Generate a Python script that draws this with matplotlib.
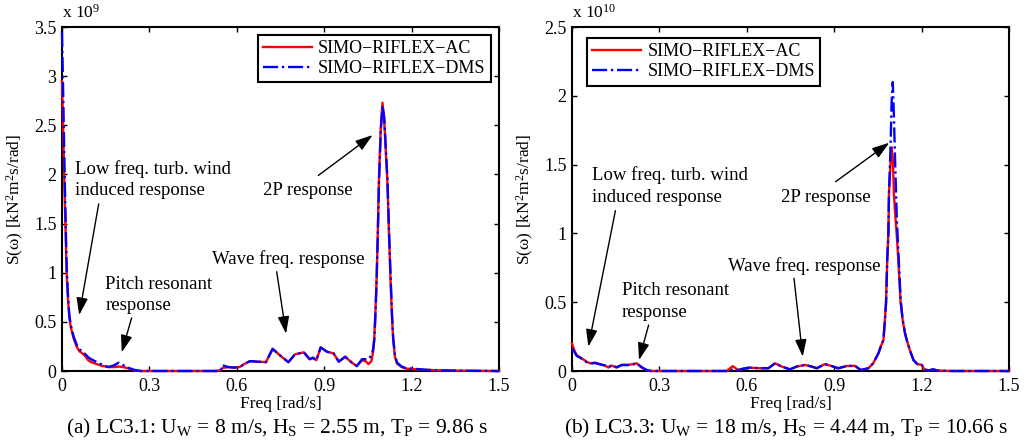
import matplotlib
matplotlib.use("Agg")
import matplotlib.pyplot as plt
from matplotlib.ticker import FuncFormatter, FixedLocator

plt.rcParams['font.family'] = ['Liberation Serif', 'DejaVu Serif']
plt.rcParams['mathtext.fontset'] = 'custom'
plt.rcParams['mathtext.rm'] = 'Liberation Serif'
plt.rcParams['mathtext.it'] = 'Liberation Serif:italic'
plt.rcParams['mathtext.bf'] = 'Liberation Serif:bold'

# ---------------- Data: panel (a), values in 1e9 kN^2 m^2 s/rad ----------------
freq_a = [0.000, 0.003, 0.006, 0.009, 0.012, 0.016, 0.020, 0.025, 0.030, 0.040,
          0.050, 0.060, 0.065, 0.070, 0.080, 0.090, 0.100, 0.120, 0.140, 0.160,
          0.180, 0.195, 0.210, 0.230, 0.250, 0.270, 0.400, 0.530, 0.545, 0.550,
          0.570, 0.590, 0.610, 0.625, 0.645, 0.670, 0.700, 0.723, 0.750, 0.777,
          0.800, 0.830, 0.850, 0.861, 0.873, 0.888, 0.910, 0.932, 0.950, 0.972,
          0.995, 1.012, 1.030, 1.042, 1.052, 1.062, 1.068, 1.072, 1.076, 1.080,
          1.084, 1.088, 1.094, 1.100, 1.106, 1.112, 1.117, 1.122, 1.128, 1.133,
          1.137, 1.143, 1.150, 1.166, 1.180, 1.200, 1.250, 1.300, 1.400, 1.500]
ac_a = [2.95, 2.60, 2.20, 1.80, 1.45, 1.00, 0.75, 0.55, 0.45, 0.33,
        0.25, 0.20, 0.19, 0.18, 0.15, 0.11, 0.09, 0.07, 0.05, 0.04,
        0.04, 0.045, 0.04, 0.025, 0.005, 0.0, 0.0, 0.0, 0.01, 0.03,
        0.04, 0.035, 0.04, 0.07, 0.10, 0.095, 0.09, 0.225, 0.155, 0.09,
        0.17, 0.19, 0.12, 0.135, 0.11, 0.24, 0.195, 0.18, 0.095, 0.145,
        0.085, 0.05, 0.11, 0.10, 0.07, 0.10, 0.20, 0.34, 0.62, 0.95,
        1.42, 1.96, 2.47, 2.73, 2.55, 2.20, 1.92, 1.43, 0.90, 0.53,
        0.31, 0.14, 0.075, 0.04, 0.025, 0.02, 0.012, 0.006, 0.002, 0.0]
dms_a = [3.45, 3.00, 2.50, 2.00, 1.60, 1.05, 0.80, 0.57, 0.47, 0.35,
         0.27, 0.22, 0.21, 0.20, 0.17, 0.14, 0.12, 0.09, 0.06, 0.04,
         0.06, 0.085, 0.06, 0.03, 0.01, 0.0, 0.0, 0.0, 0.0, 0.06,
         0.04, 0.035, 0.04, 0.07, 0.10, 0.095, 0.09, 0.225, 0.155, 0.09,
         0.17, 0.19, 0.12, 0.135, 0.11, 0.24, 0.195, 0.18, 0.095, 0.145,
         0.085, 0.05, 0.12, 0.12, 0.12, 0.16, 0.22, 0.32, 0.58, 0.93,
         1.38, 1.92, 2.42, 2.70, 2.58, 2.24, 1.96, 1.47, 0.95, 0.56,
         0.33, 0.16, 0.085, 0.045, 0.03, 0.025, 0.012, 0.006, 0.002, 0.0]

# ---------------- Data: panel (b), values in 1e10 kN^2 m^2 s/rad ----------------
freq_b = [0.000, 0.008, 0.016, 0.033, 0.050, 0.062, 0.079, 0.096, 0.113, 0.125,
          0.136, 0.153, 0.171, 0.193, 0.210, 0.222, 0.239, 0.256, 0.270, 0.400,
          0.531, 0.552, 0.571, 0.588, 0.611, 0.645, 0.674, 0.697, 0.720, 0.748,
          0.771, 0.800, 0.823, 0.840, 0.868, 0.891, 0.914, 0.943, 0.971, 0.991,
          1.017, 1.034, 1.052, 1.062, 1.069, 1.074, 1.078, 1.082, 1.086, 1.088,
          1.093, 1.097, 1.101, 1.105, 1.109, 1.115, 1.120, 1.128, 1.135, 1.143,
          1.149, 1.160, 1.172, 1.185, 1.200, 1.210, 1.225, 1.240, 1.255, 1.300,
          1.500]
ac_b = [0.200, 0.150, 0.116, 0.092, 0.068, 0.056, 0.060, 0.050, 0.040, 0.025,
        0.040, 0.025, 0.045, 0.045, 0.050, 0.056, 0.025, 0.005, 0.0, 0.0,
        0.0, 0.035, 0.005, 0.015, 0.024, 0.020, 0.020, 0.056, 0.032, 0.012,
        0.032, 0.044, 0.032, 0.020, 0.050, 0.036, 0.020, 0.036, 0.038, 0.007,
        0.020, 0.056, 0.130, 0.190, 0.225, 0.370, 0.500, 0.807, 1.000, 1.290,
        1.500, 1.625, 1.550, 1.290, 1.150, 0.980, 0.807, 0.500, 0.370, 0.275,
        0.225, 0.150, 0.080, 0.050, 0.045, 0.010, 0.005, 0.012, 0.003, 0.0,
        0.0]
dms_b = [0.165, 0.140, 0.110, 0.090, 0.065, 0.055, 0.058, 0.048, 0.040, 0.028,
         0.040, 0.028, 0.043, 0.043, 0.048, 0.056, 0.028, 0.008, 0.0, 0.0,
         0.0, 0.010, 0.008, 0.018, 0.024, 0.020, 0.020, 0.056, 0.032, 0.012,
         0.032, 0.044, 0.032, 0.020, 0.050, 0.036, 0.020, 0.036, 0.038, 0.007,
         0.020, 0.056, 0.130, 0.190, 0.225, 0.370, 0.500, 0.807, 1.000, 1.290,
         1.600, 1.950, 2.100, 1.850, 1.530, 1.100, 0.880, 0.520, 0.370, 0.275,
         0.225, 0.150, 0.080, 0.050, 0.045, 0.010, 0.005, 0.012, 0.003, 0.0,
         0.0]

xticks = [0, 0.3, 0.6, 0.9, 1.2, 1.5]
yticks_a = [0, 0.5, 1, 1.5, 2, 2.5, 3, 3.5]
yticks_b = [0, 0.5, 1, 1.5, 2, 2.5]
series_labels = ['SIMO\u2212RIFLEX\u2212AC', 'SIMO\u2212RIFLEX\u2212DMS']
captions = ['(a) LC3.1: U$_\\mathrm{W}$ = 8 m/s, H$_\\mathrm{S}$ = 2.55 m, T$_\\mathrm{P}$ = 9.86 s',
            '(b) LC3.3: U$_\\mathrm{W}$ = 18 m/s, H$_\\mathrm{S}$ = 4.44 m, T$_\\mathrm{P}$ = 10.66 s']
multipliers = ['x 10$^{9}$', 'x 10$^{10}$']

# annotations: (text, text_x, text_y (baseline of last line), tail, tip)
ann_a = [('Low freq. turb. wind\ninduced response', 0.045, 1.79, (0.126, 1.70), (0.059, 0.57)),
         ('Pitch resonant\nresponse', 0.148, 0.62, (0.239, 0.54), (0.205, 0.19)),
         ('Wave freq. response', 0.514, 1.09, (0.737, 1.01), (0.769, 0.38)),
         ('2P response', 0.691, 1.79, (0.880, 1.99), (1.066, 2.40))]
ann_b = [('Low freq. turb. wind\ninduced response', 0.070, 1.23, (0.149, 1.165), (0.056, 0.177)),
         ('Pitch resonant\nresponse', 0.171, 0.395, (0.263, 0.334), (0.230, 0.080)),
         ('Wave freq. response', 0.537, 0.729, (0.762, 0.674), (0.792, 0.104)),
         ('2P response', 0.716, 1.23, (0.905, 1.376), (1.089, 1.659))]

fig = plt.figure(figsize=(10.29, 4.46), dpi=100)
W, H = 1029.0, 446.0
ax_a = fig.add_axes([62 / W, 1 - 371 / H, 437 / W, 344 / H])
ax_b = fig.add_axes([572 / W, 1 - 371 / H, 437 / W, 344 / H])

panels = [
    (ax_a, freq_a, ac_a, dms_a, yticks_a, 3.5, ann_a, 'upper right', (0.982, 0.977)),
    (ax_b, freq_b, ac_b, dms_b, yticks_b, 2.5, ann_b, 'upper left', (0.034, 0.968)),
]

fmt = FuncFormatter(lambda v, p: '%g' % v)

for i, (ax, fr, ac, dms, yt, ymax, anns, loc, anchor) in enumerate(panels):
    ax.plot(fr, ac, color='#ff0000', lw=1.7, ls='-', label=series_labels[0],
            zorder=3, clip_on=False)
    ax.plot(fr, dms, color='#0000ff', lw=1.7, ls='-.', label=series_labels[1],
            zorder=4, clip_on=False)
    ax.set_xlim(0, 1.5)
    ax.set_ylim(0, ymax)
    ax.xaxis.set_major_locator(FixedLocator(xticks))
    ax.yaxis.set_major_locator(FixedLocator(yt))
    ax.xaxis.set_major_formatter(fmt)
    ax.yaxis.set_major_formatter(fmt)
    ax.tick_params(direction='in', top=True, right=True, length=3.8, width=1.0,
                   labelsize=13, colors='black')
    ax.tick_params(axis='x', pad=5)
    ax.tick_params(axis='y', pad=4)
    for s in ax.spines.values():
        s.set_linewidth(1.5)
        s.set_color('black')
    ax.set_xlabel('Freq [rad/s]', fontsize=12.5, labelpad=1)
    ax.set_ylabel('S(\u03c9) [kN$^{2}$m$^{2}$s/rad]', fontsize=12.5)
    ax.yaxis.set_label_coords(-0.082, 0.5)
    ax.text(0.0, 1.026, multipliers[i], transform=ax.transAxes, fontsize=12.5,
            ha='left', va='baseline')
    leg = ax.legend(loc=loc, bbox_to_anchor=anchor, borderaxespad=0,
                    fontsize=13, frameon=True, fancybox=False, framealpha=1,
                    edgecolor='black', handlelength=2.7, handletextpad=0.35,
                    labelspacing=0.15, borderpad=0.3)
    leg.get_frame().set_linewidth(1.5)
    for txt, tx, ty, tail, tip in anns:
        ax.text(tx, ty, txt, fontsize=13.5, ha='left', va='baseline',
                linespacing=1.35, zorder=5)
        ax.annotate('', xy=tip, xytext=tail,
                    arrowprops=dict(arrowstyle='-|>,head_length=0.75,head_width=0.25',
                                    color='black', lw=1.0, shrinkA=0, shrinkB=0,
                                    mutation_scale=14), zorder=5)
    cx = (ax.get_position().x0 + ax.get_position().x1) / 2
    fig.text(cx - 0.004, 1 - 433 / H, captions[i], fontsize=15.5, ha='center',
             va='baseline')

fig.savefig('out.png', dpi=100)
